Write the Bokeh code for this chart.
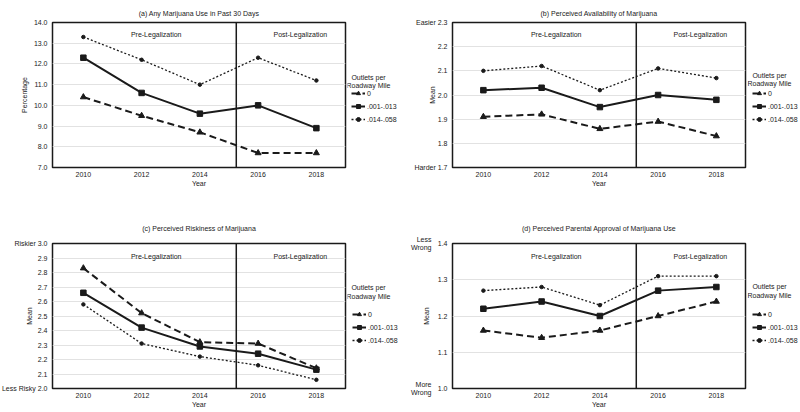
from bokeh.plotting import figure
from bokeh.layouts import column, row
from bokeh.models import (Range1d, FixedTicker, Span, Label, Legend, LegendItem,
                          NumeralTickFormatter, LinearAxis)
from bokeh.embed import file_html
from bokeh.resources import INLINE

FONT = "Liberation Sans"
INK = "#1a1a1a"
FS = "7px"

years = [2010, 2012, 2014, 2016, 2018]
series_names = ["0", ".001-.013", ".014-.058"]
legend_title = ["Outlets per", "Roadway Mile"]
legalization_year = 2015.25

# (a) Any marijuana use in past 30 days (percentage)
use_0 = [10.4, 9.5, 8.7, 7.7, 7.7]
use_low = [12.3, 10.6, 9.6, 10.0, 8.9]
use_high = [13.3, 12.2, 11.0, 12.3, 11.2]
use_ticks = [7, 8, 9, 10, 11, 12, 13, 14]

# (b) Perceived availability (mean)
avail_0 = [1.91, 1.92, 1.86, 1.89, 1.83]
avail_low = [2.02, 2.03, 1.95, 2.00, 1.98]
avail_high = [2.10, 2.12, 2.02, 2.11, 2.07]
avail_ticks = [1.7, 1.8, 1.9, 2.0, 2.1, 2.2, 2.3]
avail_tick_labels = {2.3: "Easier 2.3", 1.7: "Harder 1.7"}

# (c) Perceived riskiness (mean)
risk_0 = [2.83, 2.52, 2.32, 2.31, 2.14]
risk_low = [2.66, 2.42, 2.29, 2.24, 2.13]
risk_high = [2.58, 2.31, 2.22, 2.16, 2.06]
risk_ticks = [2.0, 2.1, 2.2, 2.3, 2.4, 2.5, 2.6, 2.7, 2.8, 2.9, 3.0]
risk_tick_labels = {3.0: "Riskier 3.0", 2.0: "Less Risky 2.0"}

# (d) Perceived parental approval (mean)
appr_0 = [1.16, 1.14, 1.16, 1.20, 1.24]
appr_low = [1.22, 1.24, 1.20, 1.27, 1.28]
appr_high = [1.27, 1.28, 1.23, 1.31, 1.31]
appr_ticks = [1.0, 1.1, 1.2, 1.3, 1.4]
appr_words = {1.4: "Less\nWrong", 1.0: "More\nWrong"}

STYLES = [
    dict(dash="7 4", width=2.0, marker="triangle", msize=6),
    dict(dash="solid", width=2.0, marker="square", msize=5.5),
    dict(dash="2 2", width=1.3, marker="circle", msize=3.5),
]

H = 206


def style_axis(ax):
    ax.axis_line_color = None
    ax.major_tick_line_color = None
    ax.minor_tick_line_color = None
    ax.major_tick_out = 0
    ax.major_tick_in = 0
    ax.minor_tick_out = 0
    ax.minor_tick_in = 0
    ax.major_label_text_font = FONT
    ax.major_label_text_font_size = FS
    ax.major_label_text_color = INK
    ax.axis_label_text_font = FONT
    ax.axis_label_text_font_size = FS
    ax.axis_label_text_font_style = "normal"
    ax.axis_label_text_color = INK


def make_panel(title, vals, ticks, ylabel, tick_labels, words, ylabel_standoff,
               T, B, title_standoff, legend_x, legend_bottom, title_x, title_ys,
               phase_dy):
    L, R, fw, LW = 52, 2, 293, 53
    fh = H - T - B
    lo, hi = ticks[0], ticks[-1]

    p = figure(width=L + fw + R, height=H, x_range=Range1d(2008.94, 2019.0),
               y_range=Range1d(lo, hi), output_backend="svg",
               toolbar_location=None, min_border_left=L, min_border_right=R,
               min_border_top=T, min_border_bottom=B, title=title,
               y_axis_location=None)
    p.title.text_font = FONT
    p.title.text_font_size = FS
    p.title.text_font_style = "normal"
    p.title.text_color = INK
    p.title.align = "center"
    p.title.standoff = title_standoff
    p.outline_line_color = INK
    p.outline_line_width = 1.5
    p.xgrid.visible = False
    p.ygrid.grid_line_color = "#e2e2e2"
    p.ygrid.grid_line_width = 1.2
    p.ygrid.ticker = FixedTicker(ticks=ticks)

    p.xaxis.ticker = FixedTicker(ticks=years)
    p.xaxis.axis_label = "Year"
    style_axis(p.xaxis[0])
    p.xaxis.major_label_standoff = 4
    p.xaxis.axis_label_standoff = 0

    # numeric scale next to the frame
    num_axis = LinearAxis(ticker=FixedTicker(ticks=ticks),
                          formatter=NumeralTickFormatter(format="0.0"),
                          major_label_overrides=dict(tick_labels or {}))
    style_axis(num_axis)
    num_axis.major_label_standoff = 5
    p.add_layout(num_axis, "left")

    if words:
        # two-line end-of-scale words, outside the numbers; carries the title
        word_axis = LinearAxis(ticker=FixedTicker(ticks=list(words.keys())),
                               major_label_overrides=dict(words),
                               axis_label=ylabel)
        style_axis(word_axis)
        word_axis.major_label_standoff = 3
        word_axis.axis_label_standoff = ylabel_standoff
        p.add_layout(word_axis, "left")
    else:
        num_axis.axis_label = ylabel
        num_axis.axis_label_standoff = ylabel_standoff

    p.add_layout(Span(location=legalization_year, dimension="height",
                      line_color=INK, line_width=1.5))

    for txt, xc in [("Pre-Legalization", 2012.5), ("Post-Legalization", 2017.45)]:
        p.add_layout(Label(x=xc, y=fh - phase_dy, x_units="data",
                           y_units="screen", text=txt, text_align="center",
                           text_baseline="middle", text_font=FONT,
                           text_font_size=FS, text_color=INK))

    # legend strip (sample renderers lie outside its own 0..1 ranges)
    q = figure(width=LW, height=H, x_range=Range1d(0, 1), y_range=Range1d(0, 1),
               output_backend="svg", toolbar_location=None,
               x_axis_location=None, y_axis_location=None,
               min_border_left=0, min_border_right=0, min_border_top=0,
               min_border_bottom=0)
    q.grid.visible = False
    q.outline_line_color = None

    items = []
    for name, ys, st in zip(series_names, vals, STYLES):
        p.line(years, ys, line_color=INK, line_width=st["width"],
               line_dash=st["dash"])
        p.scatter(years, ys, marker=st["marker"], size=st["msize"],
                  fill_color=INK, line_color=INK)
        lr = q.line(years, ys, line_color=INK, line_width=st["width"],
                    line_dash=st["dash"])
        mr = q.scatter(years, ys, marker=st["marker"], size=st["msize"],
                       fill_color=INK, line_color=INK)
        items.append(LegendItem(label=name, renderers=[lr, mr]))
    legend = Legend(items=items, location=(legend_x, legend_bottom),
                    orientation="vertical", background_fill_alpha=0,
                    border_line_alpha=0, padding=0, margin=0, spacing=3,
                    glyph_width=14, glyph_height=10, label_height=10,
                    label_standoff=2, label_text_font=FONT,
                    label_text_font_size=FS, label_text_color=INK)
    q.add_layout(legend)
    for txt, yy in zip(legend_title, title_ys):
        q.add_layout(Label(x=title_x, y=yy, x_units="screen", y_units="screen",
                           text=txt, text_align="center", text_baseline="middle",
                           text_font=FONT, text_font_size=FS, text_color=INK))
    return row(p, q)


panel_a = make_panel("(a) Any Marijuana Use in Past 30 Days",
                     [use_0, use_low, use_high], use_ticks, "Percentage",
                     None, None, 3, 22, 39, 11, 4, 43, 21, (90, 82), 12)
panel_b = make_panel("(b) Perceived Availability of Marijuana",
                     [avail_0, avail_low, avail_high], avail_ticks, "Mean",
                     avail_tick_labels, None, -25, 22, 39, 11, 5, 43, 22,
                     (92, 84), 12)
panel_c = make_panel("(c) Perceived Riskiness of Marijuana",
                     [risk_0, risk_low, risk_high], risk_ticks, "Mean",
                     risk_tick_labels, None, -34, 37, 24, 23, 5, 43, 21,
                     (101, 92), 13)
panel_d = make_panel("(d) Perceived Parental Approval of Marijuana Use",
                     [appr_0, appr_low, appr_high], appr_ticks, "Mean",
                     None, appr_words, -22, 37, 24, 23, 5, 43, 22,
                     (102, 93), 13)

layout = column(row(panel_a, panel_b), row(panel_c, panel_d))
open("out.html", "w").write(file_html(layout, INLINE))
